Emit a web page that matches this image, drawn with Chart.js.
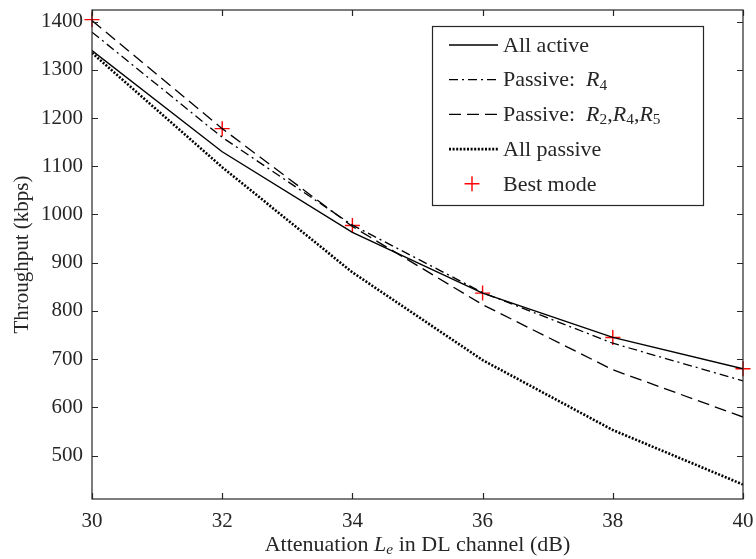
<!DOCTYPE html>
<html>
<head>
<meta charset="utf-8">
<script src="https://cdn.jsdelivr.net/npm/chart.js@4.4.1/dist/chart.umd.min.js"></script>
<style>
  html, body { margin: 0; padding: 0; background: #fff; }
  #wrap { width: 756px; height: 559px; }
</style>
</head>
<body>
<div id="wrap"><canvas id="chart"></canvas></div>
<script>
// valores
const attenuation = [30, 32, 34, 36, 38, 40];
const allActive   = [1340, 1130, 963, 837, 745, 680];
const passiveR4   = [1378, 1160, 978, 838, 733, 655];
const passiveR245 = [1402, 1178, 975, 813, 678, 580];
const allPassive  = [1335, 1098, 880, 698, 553, 440];
const bestMode    = [1404, 1178, 977, 837, 745, 680];
const xTicks = [30, 32, 34, 36, 38, 40];
const yTicks = [500, 600, 700, 800, 900, 1000, 1100, 1200, 1300, 1400];

const FONT = '"Liberation Serif", "DejaVu Serif", serif';
const TXT = '#262626';

// texto con cursiva y subíndices
function richText(ctx, x, y, parts, size) {
    let cx = x;
    parts.forEach(p => {
        const fs = p.sub ? size * 0.7 : size;
        ctx.font = (p.it ? 'italic ' : '') + fs + 'px ' + FONT;
        ctx.fillText(p.t, cx, p.sub ? y + size * 0.22 : y);
        cx += ctx.measureText(p.t).width;
    });
    return cx - x;
}
function richWidth(ctx, parts, size) {
    let w = 0;
    parts.forEach(p => {
        const fs = p.sub ? size * 0.7 : size;
        ctx.font = (p.it ? 'italic ' : '') + fs + 'px ' + FONT;
        w += ctx.measureText(p.t).width;
    });
    return w;
}

const legendRows = [
    { ds: 0, parts: [{ t: 'All active' }] },
    { ds: 1, parts: [{ t: 'Passive:  ' }, { t: 'R', it: true }, { t: '4', sub: true }] },
    { ds: 2, parts: [{ t: 'Passive:  ' }, { t: 'R', it: true }, { t: '2', sub: true }, { t: ',' },
                     { t: 'R', it: true }, { t: '4', sub: true }, { t: ',' },
                     { t: 'R', it: true }, { t: '5', sub: true }] },
    { ds: 3, parts: [{ t: 'All passive' }] },
    { ds: 4, parts: [{ t: 'Best mode' }] }
];

const framePlugin = {
    id: 'frame',
    afterDraw(chart) {
        const ctx = chart.ctx;
        const a = chart.chartArea;
        const xs = chart.scales.x, ys = chart.scales.y;
        ctx.save();
        ctx.strokeStyle = TXT;
        ctx.lineWidth = 1.2;
        ctx.setLineDash([]);
        ctx.strokeRect(a.left, a.top, a.right - a.left, a.bottom - a.top);
        // marcas hacia dentro en los cuatro lados
        const tl = 6;
        ctx.beginPath();
        xTicks.forEach(v => {
            const px = Math.round(xs.getPixelForValue(v)) + 0.5;
            ctx.moveTo(px, a.bottom); ctx.lineTo(px, a.bottom - tl);
            ctx.moveTo(px, a.top); ctx.lineTo(px, a.top + tl);
        });
        yTicks.forEach(v => {
            const py = Math.round(ys.getPixelForValue(v)) + 0.5;
            ctx.moveTo(a.left, py); ctx.lineTo(a.left + tl, py);
            ctx.moveTo(a.right, py); ctx.lineTo(a.right - tl, py);
        });
        ctx.stroke();

        // título del eje x
        ctx.fillStyle = TXT;
        ctx.textBaseline = 'middle';
        ctx.textAlign = 'left';
        const xt = [{ t: 'Attenuation ' }, { t: 'L', it: true }, { t: 'e', it: true, sub: true },
                    { t: ' in DL channel (dB)' }];
        const fsT = 22;
        const w = richWidth(ctx, xt, fsT);
        richText(ctx, (a.left + a.right) / 2 - w / 2, 545, xt, fsT);

        // leyenda
        const lx = 432, ly = 26, lw = 271, lh = 179;
        ctx.fillStyle = '#fff';
        ctx.fillRect(lx, ly, lw, lh);
        ctx.strokeStyle = TXT;
        ctx.lineWidth = 1.2;
        ctx.strokeRect(lx + 0.5, ly + 0.5, lw, lh);
        const fsL = 22;
        legendRows.forEach((row, i) => {
            const y = 45 + i * 34.7;
            const ds = chart.data.datasets[row.ds];
            if (ds.showLine === false) {
                ctx.strokeStyle = ds.borderColor;
                ctx.lineWidth = 1.4;
                ctx.setLineDash([]);
                ctx.beginPath();
                ctx.moveTo(472 - 7.5, y); ctx.lineTo(472 + 7.5, y);
                ctx.moveTo(472, y - 7.5); ctx.lineTo(472, y + 7.5);
                ctx.stroke();
            } else {
                ctx.strokeStyle = ds.borderColor;
                ctx.lineWidth = ds.borderWidth;
                ctx.setLineDash(ds.borderDash || []);
                ctx.beginPath();
                ctx.moveTo(449, y); ctx.lineTo(498, y);
                ctx.stroke();
            }
            ctx.setLineDash([]);
            ctx.fillStyle = TXT;
            richText(ctx, 503, y + 1, row.parts, fsL);
        });
        ctx.restore();
    }
};

const toPts = arr => arr.map((v, i) => ({ x: attenuation[i], y: v }));

new Chart(document.getElementById('chart'), {
    type: 'line',
    data: {
        datasets: [
            { label: 'All active', data: toPts(allActive), borderColor: '#000', borderWidth: 1.4,
              borderDash: [], pointRadius: 0 },
            { label: 'Passive: R4', data: toPts(passiveR4), borderColor: '#000', borderWidth: 1.3,
              borderDash: [9, 4, 2, 4], pointRadius: 0 },
            { label: 'Passive: R2,R4,R5', data: toPts(passiveR245), borderColor: '#000', borderWidth: 1.3,
              borderDash: [12, 6], pointRadius: 0 },
            { label: 'All passive', data: toPts(allPassive), borderColor: '#000', borderWidth: 2.6,
              borderDash: [2, 1.6], pointRadius: 0 },
            { label: 'Best mode', data: toPts(bestMode), borderColor: '#ff0000', backgroundColor: '#ff0000',
              showLine: false, pointStyle: 'cross', pointRadius: 7.5, pointBorderWidth: 1.4,
              pointHoverRadius: 7.5, clip: false }
        ]
    },
    options: {
        responsive: true,
        maintainAspectRatio: false,
        animation: false,
        devicePixelRatio: 1,
        layout: { padding: { left: 0, right: 13, top: 10, bottom: 0 } },
        elements: { line: { tension: 0, borderCapStyle: 'butt' } },
        plugins: { legend: { display: false }, tooltip: { enabled: false } },
        scales: {
            x: {
                type: 'linear', min: 30, max: 40,
                grid: { display: false, drawTicks: false },
                border: { display: false },
                ticks: { color: TXT, font: { family: FONT, size: 21 }, padding: 10, maxRotation: 0,
                         callback: v => String(v) },
                afterBuildTicks: s => { s.ticks = xTicks.map(v => ({ value: v })); },
                afterFit: s => { s.height = 60; s.paddingLeft = 0; s.paddingRight = 0; }
            },
            y: {
                type: 'linear', min: 410, max: 1424,
                grid: { display: false, drawTicks: false },
                border: { display: false },
                ticks: { color: TXT, font: { family: FONT, size: 21 }, padding: 9,
                         callback: v => String(v) },
                title: { display: true, text: 'Throughput (kbps)', color: TXT,
                         font: { family: FONT, size: 21 }, padding: { top: 10, bottom: 4 } },
                afterBuildTicks: s => { s.ticks = yTicks.map(v => ({ value: v })); },
                afterFit: s => { s.width = 92; s.paddingTop = 0; s.paddingBottom = 0; }
            }
        }
    },
    plugins: [framePlugin]
});
</script>
</body>
</html>
